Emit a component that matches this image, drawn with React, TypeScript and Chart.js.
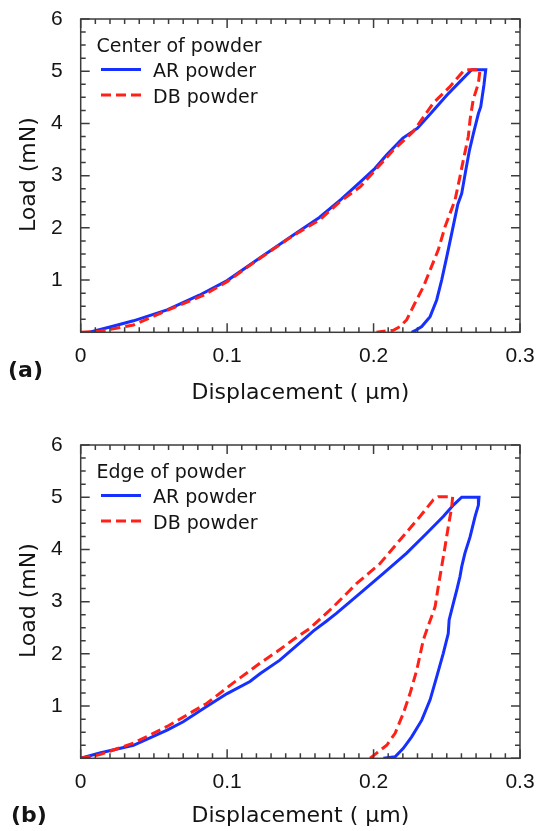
import { useEffect, useRef } from 'react';
import { Chart, registerables } from 'chart.js';

Chart.register(...registerables);

// Nanoindentation load–displacement curves (loading then unloading), displacement in µm, load in mN.
const seriesNames = ['AR powder', 'DB powder'];
const panelTitles = ['Center of powder', 'Edge of powder'];
const panelLabels = ['(a)', '(b)'];
const xAxisTitle = 'Displacement ( \u03bcm)';
const yAxisTitle = 'Load (mN)';

const xRange = [0, 0.3];
const yRange = [0, 6];
const xMajorStep = 0.1;
const xMinorStep = 0.01;
const yMajorStep = 1;
const yMinorStep = 0.25;

// (a) centre of powder
const centerArDisp = [
  0.006, 0.02, 0.036, 0.059, 0.081, 0.1, 0.122, 0.145, 0.163, 0.178, 0.191, 0.201, 0.209, 0.22, 0.23,
  0.239, 0.25, 0.259, 0.267, 0.2766, 0.2754, 0.2732, 0.2716, 0.2682, 0.2655, 0.263, 0.2602, 0.2575,
  0.2534, 0.25, 0.2465, 0.2431, 0.2386, 0.2329, 0.2283, 0.226,
];
const centerArLoad = [
  0, 0.1, 0.22, 0.43, 0.71, 0.99, 1.42, 1.86, 2.2, 2.55, 2.88, 3.14, 3.4, 3.72, 3.91,
  4.19, 4.54, 4.8, 5.03, 5.03, 4.74, 4.32, 4.19, 3.81, 3.49, 3.11, 2.66, 2.45,
  1.9, 1.45, 1.0, 0.62, 0.3, 0.11, 0.03, 0,
];
const centerDbDisp = [
  0, 0.013, 0.036, 0.059, 0.084, 0.1, 0.122, 0.145, 0.163, 0.177, 0.191, 0.2135, 0.227, 0.2408, 0.252,
  0.2613, 0.2636, 0.2727, 0.2716, 0.268, 0.2659, 0.2647, 0.2613, 0.259, 0.2556, 0.2488, 0.2442, 0.2386,
  0.234, 0.2283, 0.2226, 0.218, 0.2135, 0.2044, 0.202,
];
const centerDbLoad = [
  0, 0.02, 0.14, 0.42, 0.71, 0.97, 1.41, 1.85, 2.15, 2.5, 2.79, 3.49, 3.84, 4.39, 4.7,
  5.0, 5.03, 5.03, 4.77, 4.45, 4.07, 3.75, 3.3, 2.98, 2.53, 2.02, 1.58, 1.19,
  0.87, 0.56, 0.24, 0.11, 0.04, 0.01, 0,
];

// (b) edge of powder
const edgeArDisp = [
  0, 0.013, 0.036, 0.059, 0.07, 0.086, 0.1, 0.1156, 0.1224, 0.136, 0.152, 0.159, 0.168, 0.1748, 0.1907,
  0.2067, 0.2226, 0.2363, 0.2476, 0.2545, 0.2602, 0.272, 0.2716, 0.2693, 0.2659, 0.2624, 0.2602, 0.259,
  0.2568, 0.2545, 0.2516, 0.251, 0.2476, 0.2431, 0.2386, 0.2329, 0.226, 0.2203, 0.2147, 0.2067,
];
const edgeArLoad = [
  0, 0.1, 0.25, 0.54, 0.7, 0.99, 1.24, 1.47, 1.62, 1.88, 2.27, 2.44, 2.63, 2.78, 3.16,
  3.54, 3.93, 4.31, 4.63, 4.85, 5.0, 5.0, 4.85, 4.63, 4.24, 3.93, 3.67, 3.48,
  3.22, 2.97, 2.65, 2.39, 2.01, 1.56, 1.12, 0.73, 0.41, 0.19, 0.03, 0,
];
const edgeDbDisp = [
  0, 0.013, 0.036, 0.059, 0.086, 0.104, 0.1224, 0.1339, 0.145, 0.1566, 0.1725, 0.1885, 0.2044, 0.218,
  0.2317, 0.2408, 0.2442, 0.254, 0.2534, 0.251, 0.2488, 0.2465, 0.2442, 0.242, 0.2375, 0.234, 0.2295,
  0.2249, 0.2203, 0.2147, 0.209, 0.2021, 0.1976,
];
const edgeDbLoad = [
  0, 0.07, 0.29, 0.61, 1.05, 1.44, 1.82, 2.04, 2.27, 2.49, 2.9, 3.35, 3.73, 4.18,
  4.63, 4.95, 5.01, 5.01, 4.82, 4.43, 4.05, 3.67, 3.29, 2.9, 2.55, 2.27, 1.69,
  1.24, 0.86, 0.48, 0.25, 0.1, 0,
];

const AR_COLOR = 'rgb(22, 48, 255)';
const DB_COLOR = 'rgb(255, 32, 24)';
const TEXT_COLOR = '#141414';
const FRAME_COLOR = '#3c3c3c';
const TITLE_FONT = '"DejaVu Sans", sans-serif';
const TICK_FONT = '"Liberation Sans", Arial, sans-serif';

const toPoints = (xs: number[], ys: number[]) => xs.map((x, i) => ({ x, y: ys[i] }));

const decorPlugin = {
  id: 'panelDecor',
  afterDraw(chart: any, _args: any, opts: any) {
    const { ctx, chartArea: a, scales } = chart;
    const xs = scales.x;
    const ys = scales.y;
    ctx.save();

    // frame and inward ticks on all four sides
    ctx.strokeStyle = FRAME_COLOR;
    ctx.lineWidth = 1.5;
    ctx.strokeRect(a.left, a.top, a.right - a.left, a.bottom - a.top);
    ctx.beginPath();
    const nx = Math.round((xRange[1] - xRange[0]) / xMinorStep);
    const perX = Math.round(xMajorStep / xMinorStep);
    for (let i = 0; i <= nx; i++) {
      const px = xs.getPixelForValue(xRange[0] + i * xMinorStep);
      const len = i % perX === 0 ? 9 : 5;
      ctx.moveTo(px, a.bottom);
      ctx.lineTo(px, a.bottom - len);
      ctx.moveTo(px, a.top);
      ctx.lineTo(px, a.top + len);
    }
    const ny = Math.round((yRange[1] - yRange[0]) / yMinorStep);
    const perY = Math.round(yMajorStep / yMinorStep);
    for (let i = 0; i <= ny; i++) {
      const py = ys.getPixelForValue(yRange[0] + i * yMinorStep);
      const len = i % perY === 0 ? 9 : 5;
      ctx.moveTo(a.left, py);
      ctx.lineTo(a.left + len, py);
      ctx.moveTo(a.right, py);
      ctx.lineTo(a.right - len, py);
    }
    ctx.stroke();

    // legend inside the plot
    ctx.fillStyle = TEXT_COLOR;
    ctx.font = `19px ${TITLE_FONT}`;
    ctx.textAlign = 'left';
    ctx.textBaseline = 'alphabetic';
    ctx.fillText(opts.title, 96.5, a.top + 33);
    chart.data.datasets.forEach((ds: any, i: number) => {
      const ly = a.top + 50.5 + i * 25.5;
      ctx.save();
      ctx.strokeStyle = ds.borderColor;
      ctx.lineWidth = ds.borderWidth;
      ctx.setLineDash(ds.borderDash || []);
      ctx.beginPath();
      ctx.moveTo(101, ly);
      ctx.lineTo(141, ly);
      ctx.stroke();
      ctx.restore();
      ctx.fillText(ds.label, 153, ly + 7.5);
    });

    // axis titles
    ctx.font = `22px ${TITLE_FONT}`;
    ctx.textAlign = 'center';
    ctx.fillText(xAxisTitle, (a.left + a.right) / 2, a.bottom + opts.xTitleOffset);
    ctx.save();
    ctx.translate(35, (a.top + a.bottom) / 2 - 1);
    ctx.rotate(-Math.PI / 2);
    ctx.fillText(yAxisTitle, 0, 0);
    ctx.restore();

    // panel label
    ctx.font = `bold 22px ${TITLE_FONT}`;
    ctx.textAlign = 'left';
    ctx.fillText(opts.label, opts.labelX, opts.labelY);
    ctx.restore();
  },
};

type PanelProps = {
  top: number;
  height: number;
  plotTop: number;
  plotBottom: number;
  title: string;
  label: string;
  labelX: number;
  labelY: number;
  xTitleOffset: number;
  arDisp: number[];
  arLoad: number[];
  dbDisp: number[];
  dbLoad: number[];
};

const WIDTH = 536;
const PLOT_LEFT = 80.7;
const PLOT_RIGHT = 520;

function Panel(p: PanelProps) {
  const ref = useRef<HTMLCanvasElement>(null);
  useEffect(() => {
    if (!ref.current) return;
    const chart = new Chart(ref.current, {
      type: 'line',
      data: {
        datasets: [
          {
            label: seriesNames[0],
            data: toPoints(p.arDisp, p.arLoad),
            borderColor: AR_COLOR,
            borderWidth: 3,
            pointRadius: 0,
            tension: 0,
            fill: false,
            order: 1,
          },
          {
            label: seriesNames[1],
            data: toPoints(p.dbDisp, p.dbLoad),
            borderColor: DB_COLOR,
            borderWidth: 3,
            borderDash: [10, 5],
            pointRadius: 0,
            tension: 0,
            fill: false,
            order: 0,
          },
        ],
      },
      options: {
        responsive: false,
        animation: false,
        devicePixelRatio: 1,
        parsing: false,
        layout: { padding: { top: p.plotTop, right: WIDTH - PLOT_RIGHT, left: 0, bottom: 0 } },
        plugins: {
          legend: { display: false },
          tooltip: { enabled: false },
          panelDecor: {
            title: p.title,
            label: p.label,
            labelX: p.labelX,
            labelY: p.labelY,
            xTitleOffset: p.xTitleOffset,
          },
        } as any,
        scales: {
          x: {
            type: 'linear',
            min: xRange[0],
            max: xRange[1],
            grid: { display: false },
            border: { display: false },
            ticks: {
              stepSize: xMajorStep,
              autoSkip: false,
              maxRotation: 0,
              padding: 3,
              color: TEXT_COLOR,
              font: { family: TICK_FONT, size: 21 },
              callback: (v: any) => String(Math.round(Number(v) * 10) / 10),
            },
            afterFit: (s: any) => {
              s.height = p.height - p.plotBottom;
              s.paddingLeft = 0;
              s.paddingRight = 0;
            },
          },
          y: {
            type: 'linear',
            min: yRange[0],
            max: yRange[1],
            grid: { display: false },
            border: { display: false },
            ticks: {
              stepSize: yMajorStep,
              padding: 10,
              color: TEXT_COLOR,
              font: { family: TICK_FONT, size: 21 },
              callback: (v: any) => (Number(v) === 0 ? '' : String(v)),
            },
            afterFit: (s: any) => {
              s.width = PLOT_LEFT;
              s.paddingTop = 0;
              s.paddingBottom = 0;
            },
          },
        },
      },
      plugins: [decorPlugin],
    });
    return () => chart.destroy();
  }, []);
  return (
    <canvas
      ref={ref}
      width={WIDTH}
      height={p.height}
      style={{ position: 'absolute', left: 0, top: p.top, display: 'block' }}
    />
  );
}

export default function App() {
  return (
    <div style={{ position: 'absolute', left: 0, top: 0, width: WIDTH, height: 831, background: '#fff', overflow: 'hidden' }}>
      <Panel
        top={0}
        height={415}
        plotTop={19}
        plotBottom={332.3}
        title={panelTitles[0]}
        label={panelLabels[0]}
        labelX={8}
        labelY={377}
        xTitleOffset={67}
        arDisp={centerArDisp}
        arLoad={centerArLoad}
        dbDisp={centerDbDisp}
        dbLoad={centerDbLoad}
      />
      <Panel
        top={415}
        height={416}
        plotTop={30}
        plotBottom={343.3}
        title={panelTitles[1]}
        label={panelLabels[1]}
        labelX={11}
        labelY={407}
        xTitleOffset={64}
        arDisp={edgeArDisp}
        arLoad={edgeArLoad}
        dbDisp={edgeDbDisp}
        dbLoad={edgeDbLoad}
      />
    </div>
  );
}
